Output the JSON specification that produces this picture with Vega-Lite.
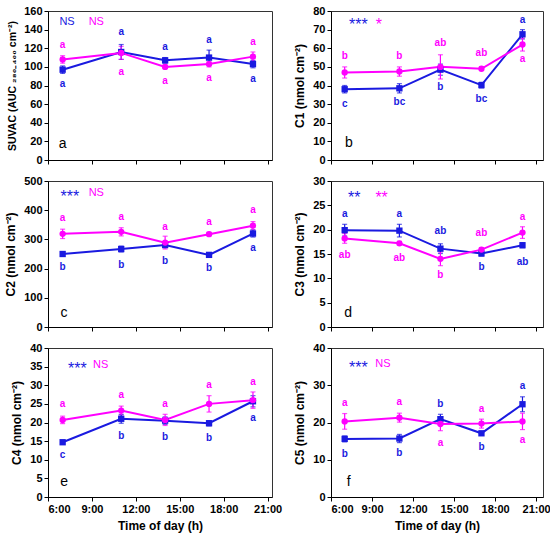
{
  "$schema": "https://vega.github.io/schema/vega-lite/v6.json",
  "padding": {"left": 4, "top": 4, "right": 4, "bottom": 2},
  "datasets": {
    "pts": [
      {"p":"a","s":"s1","t":7,"v":97,"e":4,"lt":"a","ly":82},
      {"p":"a","s":"s1","t":11,"v":116,"e":8,"lt":"a","ly":137},
      {"p":"a","s":"s1","t":14,"v":107,"e":3,"lt":"a","ly":121},
      {"p":"a","s":"s1","t":17,"v":110,"e":8,"lt":"a","ly":129},
      {"p":"a","s":"s1","t":20,"v":103,"e":4,"lt":"a","ly":87},
      {"p":"a","s":"s2","t":7,"v":108,"e":4,"lt":"a","ly":124},
      {"p":"a","s":"s2","t":11,"v":115,"e":7,"lt":"a","ly":95},
      {"p":"a","s":"s2","t":14,"v":100,"e":2,"lt":"a","ly":85},
      {"p":"a","s":"s2","t":17,"v":103,"e":3,"lt":"a","ly":88},
      {"p":"a","s":"s2","t":20,"v":111,"e":5,"lt":"a","ly":127},
      {"p":"b","s":"s1","t":7,"v":38,"e":2,"lt":"c","ly":30},
      {"p":"b","s":"s1","t":11,"v":38.5,"e":2.5,"lt":"bc","ly":31},
      {"p":"b","s":"s1","t":14,"v":48.5,"e":3,"lt":"b","ly":39},
      {"p":"b","s":"s1","t":17,"v":40.2,"e":1.5,"lt":"bc","ly":32.5},
      {"p":"b","s":"s1","t":20,"v":67.5,"e":2.5,"lt":"a","ly":75},
      {"p":"b","s":"s2","t":7,"v":47,"e":3,"lt":"b","ly":56},
      {"p":"b","s":"s2","t":11,"v":47.5,"e":2.5,"lt":"b","ly":56},
      {"p":"b","s":"s2","t":14,"v":50,"e":6.5,"lt":"ab","ly":62.6},
      {"p":"b","s":"s2","t":17,"v":49,"e":1,"lt":"ab","ly":57.6},
      {"p":"b","s":"s2","t":20,"v":62,"e":3.5,"lt":"a","ly":54.4},
      {"p":"c","s":"s1","t":7,"v":250,"e":8,"lt":"b","ly":204},
      {"p":"c","s":"s1","t":11,"v":267,"e":10,"lt":"b","ly":213},
      {"p":"c","s":"s1","t":14,"v":281,"e":10,"lt":"b","ly":227},
      {"p":"c","s":"s1","t":17,"v":247,"e":5,"lt":"b","ly":202},
      {"p":"c","s":"s1","t":20,"v":320,"e":12,"lt":"a","ly":270},
      {"p":"c","s":"s2","t":7,"v":319,"e":16,"lt":"a","ly":372},
      {"p":"c","s":"s2","t":11,"v":326,"e":14,"lt":"a","ly":376},
      {"p":"c","s":"s2","t":14,"v":289,"e":22,"lt":"a","ly":342},
      {"p":"c","s":"s2","t":17,"v":318,"e":6,"lt":"a","ly":359},
      {"p":"c","s":"s2","t":20,"v":347,"e":14,"lt":"a","ly":400},
      {"p":"d","s":"s1","t":7,"v":19.9,"e":1.2,"lt":"a","ly":23.2},
      {"p":"d","s":"s1","t":11,"v":19.8,"e":1.3,"lt":"a","ly":23.2},
      {"p":"d","s":"s1","t":14,"v":16.1,"e":1,"lt":"ab","ly":19.7},
      {"p":"d","s":"s1","t":17,"v":15.1,"e":0.5,"lt":"b","ly":12.3},
      {"p":"d","s":"s1","t":20,"v":16.8,"e":0.5,"lt":"ab","ly":13.4},
      {"p":"d","s":"s2","t":7,"v":18.2,"e":1,"lt":"ab","ly":14.8},
      {"p":"d","s":"s2","t":11,"v":17.2,"e":0.4,"lt":"ab","ly":14.2},
      {"p":"d","s":"s2","t":14,"v":14,"e":1.4,"lt":"b","ly":10.6},
      {"p":"d","s":"s2","t":17,"v":15.9,"e":0.4,"lt":"ab","ly":19.4},
      {"p":"d","s":"s2","t":20,"v":19.4,"e":1.2,"lt":"a","ly":22.6},
      {"p":"e","s":"s1","t":7,"v":14.7,"e":0.5,"lt":"c","ly":11.2},
      {"p":"e","s":"s1","t":11,"v":21,"e":1.2,"lt":"b","ly":16.5},
      {"p":"e","s":"s1","t":14,"v":20.5,"e":1,"lt":"b","ly":16},
      {"p":"e","s":"s1","t":17,"v":19.8,"e":0.7,"lt":"b","ly":15.8},
      {"p":"e","s":"s1","t":20,"v":25.7,"e":1.5,"lt":"a","ly":21.2},
      {"p":"e","s":"s2","t":7,"v":20.7,"e":1,"lt":"a","ly":24.9},
      {"p":"e","s":"s2","t":11,"v":23.2,"e":1.2,"lt":"a","ly":27.3},
      {"p":"e","s":"s2","t":14,"v":20.7,"e":1.5,"lt":"a","ly":24.9},
      {"p":"e","s":"s2","t":17,"v":25,"e":2.2,"lt":"a","ly":30.1},
      {"p":"e","s":"s2","t":20,"v":26,"e":2.2,"lt":"a","ly":30.8},
      {"p":"f","s":"s1","t":7,"v":15.6,"e":0.8,"lt":"b","ly":11.6},
      {"p":"f","s":"s1","t":11,"v":15.7,"e":1.1,"lt":"b","ly":11.8},
      {"p":"f","s":"s1","t":14,"v":20.9,"e":1.3,"lt":"b","ly":25.1},
      {"p":"f","s":"s1","t":17,"v":17.1,"e":0.5,"lt":"b","ly":13.5},
      {"p":"f","s":"s1","t":20,"v":24.9,"e":2,"lt":"a","ly":29.9},
      {"p":"f","s":"s2","t":7,"v":20.3,"e":2.1,"lt":"a","ly":25.2},
      {"p":"f","s":"s2","t":11,"v":21.3,"e":1.2,"lt":"a","ly":25.4},
      {"p":"f","s":"s2","t":14,"v":19.6,"e":1.8,"lt":"a","ly":14.5},
      {"p":"f","s":"s2","t":17,"v":19.7,"e":1.2,"lt":"a","ly":23.6},
      {"p":"f","s":"s2","t":20,"v":20.3,"e":2.2,"lt":"a","ly":15.4}
    ],
    "notes": [
      {"p":"a","k":"sig","s":"s1","x":7.3,"y":148.6,"txt":"NS"},
      {"p":"a","k":"sig","s":"s2","x":9.3,"y":148.6,"txt":"NS"},
      {"p":"a","k":"lab","s":"k","x":7.0,"y":17,"txt":"a"},
      {"p":"b","k":"ast","s":"s1","x":8.0,"y":74.6,"txt":"***"},
      {"p":"b","k":"ast","s":"s2","x":9.5,"y":74.6,"txt":"*"},
      {"p":"b","k":"lab","s":"k","x":7.3,"y":9,"txt":"b"},
      {"p":"c","k":"ast","s":"s1","x":7.5,"y":460,"txt":"***"},
      {"p":"c","k":"sig","s":"s2","x":9.3,"y":460,"txt":"NS"},
      {"p":"c","k":"lab","s":"k","x":7.1,"y":48,"txt":"c"},
      {"p":"d","k":"ast","s":"s1","x":7.7,"y":27.3,"txt":"**"},
      {"p":"d","k":"ast","s":"s2","x":9.7,"y":27.3,"txt":"**"},
      {"p":"d","k":"lab","s":"k","x":7.25,"y":2.95,"txt":"d"},
      {"p":"e","k":"ast","s":"s1","x":8.0,"y":35.4,"txt":"***"},
      {"p":"e","k":"sig","s":"s2","x":9.6,"y":35.4,"txt":"NS"},
      {"p":"e","k":"lab","s":"k","x":7.1,"y":3.9,"txt":"e"},
      {"p":"f","k":"ast","s":"s1","x":8.0,"y":35.6,"txt":"***"},
      {"p":"f","k":"sig","s":"s2","x":9.8,"y":35.6,"txt":"NS"},
      {"p":"f","k":"lab","s":"k","x":7.3,"y":3.9,"txt":"f"}
    ]
  },
  "columns": 2,
  "spacing": {"row": 8, "column": 10},
  "concat": [
    {
      "width": 224, "height": 149,
      "data": {"name": "pts"},
      "transform": [{"filter": "datum.p == 'a'"}],
      "encoding": {
        "x": {"field": "t", "type": "quantitative", "scale": {"domain": [6, 21.3], "nice": false}, "axis": {"values": [6, 9, 12, 15, 18, 21], "labels": false, "title": null}},
        "y": {"field": "v", "type": "quantitative", "scale": {"domain": [0, 160], "nice": false}, "axis": {"values": [0, 20, 40, 60, 80, 100, 120, 140, 160], "title": "SUVAC (AUC ₂₈₀₋₄₀₀ cm⁻²)", "titleFontSize": 10.5}},
        "color": {"field": "s", "type": "nominal", "scale": {"domain": ["s1", "s2", "k"], "range": ["#1a1ae0", "#ff00ff", "#000000"]}, "legend": null}
      },
      "layer": [
        {"mark": {"type": "errorbar", "ticks": {"size": 5}, "thickness": 1.2}, "encoding": {"yError": {"field": "e"}}},
        {"mark": {"type": "line", "strokeWidth": 2}},
        {"mark": {"type": "point", "filled": true, "opacity": 1, "size": 40}, "encoding": {"shape": {"field": "s", "type": "nominal", "scale": {"domain": ["s1", "s2"], "range": ["square", "circle"]}, "legend": null}}},
        {"mark": {"type": "text", "fontWeight": "bold", "fontSize": 10, "baseline": "middle"}, "encoding": {"y": {"field": "ly", "type": "quantitative", "title": null}, "text": {"field": "lt"}}},
        {"data": {"name": "notes"}, "transform": [{"filter": "datum.p == 'a' && datum.k == 'sig'"}], "mark": {"type": "text", "fontSize": 11, "baseline": "middle"}, "encoding": {"x": {"field": "x", "type": "quantitative", "title": null}, "y": {"field": "y", "type": "quantitative", "title": null}, "text": {"field": "txt"}}},
        {"data": {"name": "notes"}, "transform": [{"filter": "datum.p == 'a' && datum.k == 'lab'"}], "mark": {"type": "text", "fontSize": 14, "fontWeight": "normal", "baseline": "middle"}, "encoding": {"x": {"field": "x", "type": "quantitative", "title": null}, "y": {"field": "y", "type": "quantitative", "title": null}, "text": {"field": "txt"}}}
      ]
    },
    {
      "width": 212, "height": 149,
      "data": {"name": "pts"},
      "transform": [{"filter": "datum.p == 'b'"}],
      "encoding": {
        "x": {"field": "t", "type": "quantitative", "scale": {"domain": [6, 21.5], "nice": false}, "axis": {"values": [6, 9, 12, 15, 18, 21], "labels": false, "title": null}},
        "y": {"field": "v", "type": "quantitative", "scale": {"domain": [0, 80], "nice": false}, "axis": {"values": [0, 10, 20, 30, 40, 50, 60, 70, 80], "title": "C1 (nmol cm⁻²)"}},
        "color": {"field": "s", "type": "nominal", "scale": {"domain": ["s1", "s2", "k"], "range": ["#1a1ae0", "#ff00ff", "#000000"]}, "legend": null}
      },
      "layer": [
        {"mark": {"type": "errorbar", "ticks": {"size": 5}, "thickness": 1.2}, "encoding": {"yError": {"field": "e"}}},
        {"mark": {"type": "line", "strokeWidth": 2}},
        {"mark": {"type": "point", "filled": true, "opacity": 1, "size": 40}, "encoding": {"shape": {"field": "s", "type": "nominal", "scale": {"domain": ["s1", "s2"], "range": ["square", "circle"]}, "legend": null}}},
        {"mark": {"type": "text", "fontWeight": "bold", "fontSize": 10, "baseline": "middle"}, "encoding": {"y": {"field": "ly", "type": "quantitative", "title": null}, "text": {"field": "lt"}}},
        {"data": {"name": "notes"}, "transform": [{"filter": "datum.p == 'b' && datum.k == 'ast'"}], "mark": {"type": "text", "fontSize": 16, "dy": 4, "baseline": "middle"}, "encoding": {"x": {"field": "x", "type": "quantitative", "title": null}, "y": {"field": "y", "type": "quantitative", "title": null}, "text": {"field": "txt"}}},
        {"data": {"name": "notes"}, "transform": [{"filter": "datum.p == 'b' && datum.k == 'lab'"}], "mark": {"type": "text", "fontSize": 14, "fontWeight": "normal", "baseline": "middle"}, "encoding": {"x": {"field": "x", "type": "quantitative", "title": null}, "y": {"field": "y", "type": "quantitative", "title": null}, "text": {"field": "txt"}}}
      ]
    },
    {
      "width": 224, "height": 146,
      "data": {"name": "pts"},
      "transform": [{"filter": "datum.p == 'c'"}],
      "encoding": {
        "x": {"field": "t", "type": "quantitative", "scale": {"domain": [6, 21.3], "nice": false}, "axis": {"values": [6, 9, 12, 15, 18, 21], "labels": false, "title": null}},
        "y": {"field": "v", "type": "quantitative", "scale": {"domain": [0, 500], "nice": false}, "axis": {"values": [0, 100, 200, 300, 400, 500], "title": "C2 (nmol cm⁻²)"}},
        "color": {"field": "s", "type": "nominal", "scale": {"domain": ["s1", "s2", "k"], "range": ["#1a1ae0", "#ff00ff", "#000000"]}, "legend": null}
      },
      "layer": [
        {"mark": {"type": "errorbar", "ticks": {"size": 5}, "thickness": 1.2}, "encoding": {"yError": {"field": "e"}}},
        {"mark": {"type": "line", "strokeWidth": 2}},
        {"mark": {"type": "point", "filled": true, "opacity": 1, "size": 40}, "encoding": {"shape": {"field": "s", "type": "nominal", "scale": {"domain": ["s1", "s2"], "range": ["square", "circle"]}, "legend": null}}},
        {"mark": {"type": "text", "fontWeight": "bold", "fontSize": 10, "baseline": "middle"}, "encoding": {"y": {"field": "ly", "type": "quantitative", "title": null}, "text": {"field": "lt"}}},
        {"data": {"name": "notes"}, "transform": [{"filter": "datum.p == 'c' && datum.k == 'sig'"}], "mark": {"type": "text", "fontSize": 11, "baseline": "middle"}, "encoding": {"x": {"field": "x", "type": "quantitative", "title": null}, "y": {"field": "y", "type": "quantitative", "title": null}, "text": {"field": "txt"}}},
        {"data": {"name": "notes"}, "transform": [{"filter": "datum.p == 'c' && datum.k == 'ast'"}], "mark": {"type": "text", "fontSize": 16, "dy": 4, "baseline": "middle"}, "encoding": {"x": {"field": "x", "type": "quantitative", "title": null}, "y": {"field": "y", "type": "quantitative", "title": null}, "text": {"field": "txt"}}},
        {"data": {"name": "notes"}, "transform": [{"filter": "datum.p == 'c' && datum.k == 'lab'"}], "mark": {"type": "text", "fontSize": 14, "fontWeight": "normal", "baseline": "middle"}, "encoding": {"x": {"field": "x", "type": "quantitative", "title": null}, "y": {"field": "y", "type": "quantitative", "title": null}, "text": {"field": "txt"}}}
      ]
    },
    {
      "width": 212, "height": 146,
      "data": {"name": "pts"},
      "transform": [{"filter": "datum.p == 'd'"}],
      "encoding": {
        "x": {"field": "t", "type": "quantitative", "scale": {"domain": [6, 21.5], "nice": false}, "axis": {"values": [6, 9, 12, 15, 18, 21], "labels": false, "title": null}},
        "y": {"field": "v", "type": "quantitative", "scale": {"domain": [0, 30], "nice": false}, "axis": {"values": [0, 5, 10, 15, 20, 25, 30], "title": "C3 (nmol cm⁻²)"}},
        "color": {"field": "s", "type": "nominal", "scale": {"domain": ["s1", "s2", "k"], "range": ["#1a1ae0", "#ff00ff", "#000000"]}, "legend": null}
      },
      "layer": [
        {"mark": {"type": "errorbar", "ticks": {"size": 5}, "thickness": 1.2}, "encoding": {"yError": {"field": "e"}}},
        {"mark": {"type": "line", "strokeWidth": 2}},
        {"mark": {"type": "point", "filled": true, "opacity": 1, "size": 40}, "encoding": {"shape": {"field": "s", "type": "nominal", "scale": {"domain": ["s1", "s2"], "range": ["square", "circle"]}, "legend": null}}},
        {"mark": {"type": "text", "fontWeight": "bold", "fontSize": 10, "baseline": "middle"}, "encoding": {"y": {"field": "ly", "type": "quantitative", "title": null}, "text": {"field": "lt"}}},
        {"data": {"name": "notes"}, "transform": [{"filter": "datum.p == 'd' && datum.k == 'ast'"}], "mark": {"type": "text", "fontSize": 16, "dy": 4, "baseline": "middle"}, "encoding": {"x": {"field": "x", "type": "quantitative", "title": null}, "y": {"field": "y", "type": "quantitative", "title": null}, "text": {"field": "txt"}}},
        {"data": {"name": "notes"}, "transform": [{"filter": "datum.p == 'd' && datum.k == 'lab'"}], "mark": {"type": "text", "fontSize": 14, "fontWeight": "normal", "baseline": "middle"}, "encoding": {"x": {"field": "x", "type": "quantitative", "title": null}, "y": {"field": "y", "type": "quantitative", "title": null}, "text": {"field": "txt"}}}
      ]
    },
    {
      "width": 224, "height": 149,
      "data": {"name": "pts"},
      "transform": [{"filter": "datum.p == 'e'"}],
      "encoding": {
        "x": {"field": "t", "type": "quantitative", "scale": {"domain": [6, 21.3], "nice": false}, "axis": {"values": [6, 9, 12, 15, 18, 21], "labelExpr": "datum.value + ':00'", "title": "Time of day (h)"}},
        "y": {"field": "v", "type": "quantitative", "scale": {"domain": [0, 40], "nice": false}, "axis": {"values": [0, 5, 10, 15, 20, 25, 30, 35, 40], "title": "C4 (nmol cm⁻²)"}},
        "color": {"field": "s", "type": "nominal", "scale": {"domain": ["s1", "s2", "k"], "range": ["#1a1ae0", "#ff00ff", "#000000"]}, "legend": null}
      },
      "layer": [
        {"mark": {"type": "errorbar", "ticks": {"size": 5}, "thickness": 1.2}, "encoding": {"yError": {"field": "e"}}},
        {"mark": {"type": "line", "strokeWidth": 2}},
        {"mark": {"type": "point", "filled": true, "opacity": 1, "size": 40}, "encoding": {"shape": {"field": "s", "type": "nominal", "scale": {"domain": ["s1", "s2"], "range": ["square", "circle"]}, "legend": null}}},
        {"mark": {"type": "text", "fontWeight": "bold", "fontSize": 10, "baseline": "middle"}, "encoding": {"y": {"field": "ly", "type": "quantitative", "title": null}, "text": {"field": "lt"}}},
        {"data": {"name": "notes"}, "transform": [{"filter": "datum.p == 'e' && datum.k == 'sig'"}], "mark": {"type": "text", "fontSize": 11, "baseline": "middle"}, "encoding": {"x": {"field": "x", "type": "quantitative", "title": null}, "y": {"field": "y", "type": "quantitative", "title": null}, "text": {"field": "txt"}}},
        {"data": {"name": "notes"}, "transform": [{"filter": "datum.p == 'e' && datum.k == 'ast'"}], "mark": {"type": "text", "fontSize": 16, "dy": 4, "baseline": "middle"}, "encoding": {"x": {"field": "x", "type": "quantitative", "title": null}, "y": {"field": "y", "type": "quantitative", "title": null}, "text": {"field": "txt"}}},
        {"data": {"name": "notes"}, "transform": [{"filter": "datum.p == 'e' && datum.k == 'lab'"}], "mark": {"type": "text", "fontSize": 14, "fontWeight": "normal", "baseline": "middle"}, "encoding": {"x": {"field": "x", "type": "quantitative", "title": null}, "y": {"field": "y", "type": "quantitative", "title": null}, "text": {"field": "txt"}}}
      ]
    },
    {
      "width": 212, "height": 149,
      "data": {"name": "pts"},
      "transform": [{"filter": "datum.p == 'f'"}],
      "encoding": {
        "x": {"field": "t", "type": "quantitative", "scale": {"domain": [6, 21.5], "nice": false}, "axis": {"values": [6, 9, 12, 15, 18, 21], "labelExpr": "datum.value + ':00'", "title": "Time of day (h)"}},
        "y": {"field": "v", "type": "quantitative", "scale": {"domain": [0, 40], "nice": false}, "axis": {"values": [0, 10, 20, 30, 40], "title": "C5  (nmol cm⁻²)"}},
        "color": {"field": "s", "type": "nominal", "scale": {"domain": ["s1", "s2", "k"], "range": ["#1a1ae0", "#ff00ff", "#000000"]}, "legend": null}
      },
      "layer": [
        {"mark": {"type": "errorbar", "ticks": {"size": 5}, "thickness": 1.2}, "encoding": {"yError": {"field": "e"}}},
        {"mark": {"type": "line", "strokeWidth": 2}},
        {"mark": {"type": "point", "filled": true, "opacity": 1, "size": 40}, "encoding": {"shape": {"field": "s", "type": "nominal", "scale": {"domain": ["s1", "s2"], "range": ["square", "circle"]}, "legend": null}}},
        {"mark": {"type": "text", "fontWeight": "bold", "fontSize": 10, "baseline": "middle"}, "encoding": {"y": {"field": "ly", "type": "quantitative", "title": null}, "text": {"field": "lt"}}},
        {"data": {"name": "notes"}, "transform": [{"filter": "datum.p == 'f' && datum.k == 'sig'"}], "mark": {"type": "text", "fontSize": 11, "baseline": "middle"}, "encoding": {"x": {"field": "x", "type": "quantitative", "title": null}, "y": {"field": "y", "type": "quantitative", "title": null}, "text": {"field": "txt"}}},
        {"data": {"name": "notes"}, "transform": [{"filter": "datum.p == 'f' && datum.k == 'ast'"}], "mark": {"type": "text", "fontSize": 16, "dy": 4, "baseline": "middle"}, "encoding": {"x": {"field": "x", "type": "quantitative", "title": null}, "y": {"field": "y", "type": "quantitative", "title": null}, "text": {"field": "txt"}}},
        {"data": {"name": "notes"}, "transform": [{"filter": "datum.p == 'f' && datum.k == 'lab'"}], "mark": {"type": "text", "fontSize": 14, "fontWeight": "normal", "baseline": "middle"}, "encoding": {"x": {"field": "x", "type": "quantitative", "title": null}, "y": {"field": "y", "type": "quantitative", "title": null}, "text": {"field": "txt"}}}
      ]
    }
  ],
  "config": {
    "font": "Liberation Sans",
    "view": {"stroke": "#333333", "strokeWidth": 1},
    "axis": {
      "grid": false,
      "domainColor": "#000000",
      "tickColor": "#000000",
      "tickSize": 4,
      "labelColor": "#000000",
      "labelFont": "Liberation Sans",
      "labelFontSize": 11,
      "labelFontWeight": "bold",
      "titleColor": "#000000",
      "titleFont": "Liberation Sans",
      "titleFontSize": 12,
      "titleFontWeight": "bold",
      "titlePadding": 6
    }
  }
}
